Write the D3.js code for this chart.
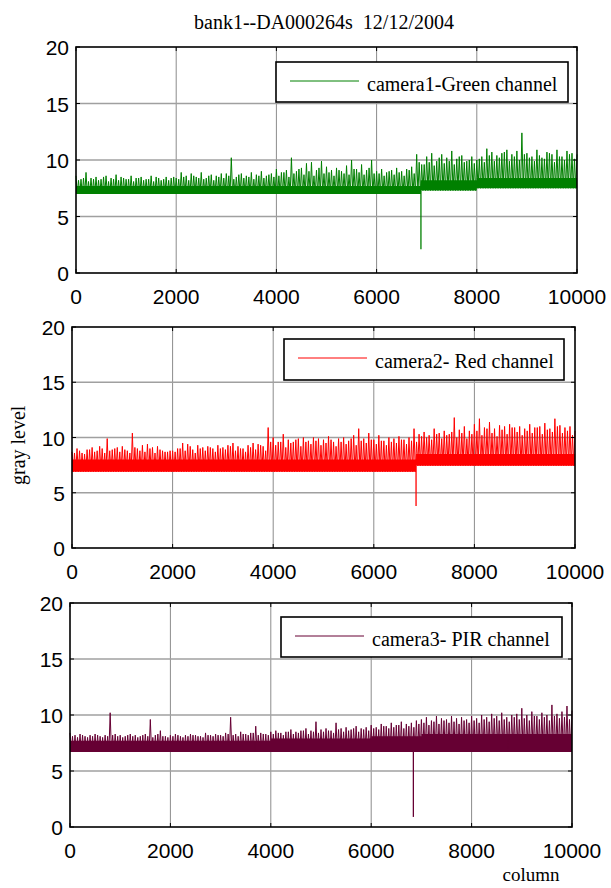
<!DOCTYPE html>
<html>
<head>
<meta charset="utf-8">
<script src="https://cdn.jsdelivr.net/npm/d3@7"></script>
<style>
body { margin: 0; background: #fff; }
svg { display: block; }
</style>
</head>
<body>
<div id="chart"></div>
<script>
// tick labels
var xTicks = [0, 2000, 4000, 6000, 8000, 10000];
var yTicks = [0, 5, 10, 15, 20];

// spike tops are read every 50 columns: "peaks" at 0,100,...,10000 and "mids" at 50,150,...,9950
var peakCols = d3.range(0, 10001, 100);

// camera1 - green
var greenPeaks = [
  8.6, 8.3, 8.9, 8.4, 8.5, 8.3, 8.6, 8.4, 8.7, 8.5,
  8.3, 8.6, 8.4, 8.5, 8.3, 8.6, 8.5, 8.2, 8.5, 8.4,
  8.4, 8.9, 8.6, 8.8, 8.5, 8.9, 8.4, 8.7, 8.6, 8.8,
  8.8, 10.2, 8.5, 8.8, 8.6, 8.9, 8.7, 9.0, 8.6, 8.8,
  9.2, 8.9, 9.1, 10.2, 9.0, 9.3, 9.7, 9.8, 9.1, 9.9,
  9.4, 9.1, 9.3, 9.0, 9.5, 10.0, 9.2, 9.6, 9.1, 10.0,
  9.0, 9.2, 8.9, 9.1, 9.3, 9.0, 9.2, 9.4, 10.5, 9.6,
  10.3, 10.6, 9.9, 10.5, 10.2, 10.8, 10.1, 10.4, 9.9, 10.3,
  10.0, 10.3, 11.0, 10.7, 10.4, 10.6, 10.9, 10.5, 10.8, 12.4,
  10.6, 10.3, 10.9, 10.2, 10.7, 10.5, 10.9, 10.3, 10.8, 10.6, 10.5
];
var greenMids = [
  8.2, 8.4, 8.1, 8.3, 8.2, 8.5, 8.1, 8.3, 8.2, 8.4,
  8.3, 8.1, 8.4, 8.2, 8.3, 8.1, 8.4, 8.3, 8.2, 8.5,
  8.3, 8.5, 8.2, 8.6, 8.4, 8.3, 8.6, 8.2, 8.5, 8.4,
  8.6, 8.3, 8.7, 8.4, 8.5, 8.3, 8.6, 8.4, 8.7, 8.5,
  8.6, 8.9, 8.5, 8.8, 9.2, 8.7, 9.0, 8.6, 9.3, 8.8,
  8.9, 8.6, 9.1, 8.8, 8.7, 9.2, 8.9, 8.7, 9.3, 8.8,
  8.8, 8.6, 9.0, 8.7, 8.9, 8.6, 9.1, 8.8, 9.8, 9.6,
  9.8, 9.5, 10.2, 9.7, 9.9, 9.6, 10.3, 9.8, 10.0, 9.7,
  10.1, 9.8, 10.4, 9.9, 10.2, 10.7, 9.9, 10.3, 10.0, 10.5,
  10.2, 9.9, 10.4, 10.1, 10.6, 9.8, 10.3, 10.0, 10.5, 10.1
];
var greenBandCols = [0, 6880, 8000, 10000];
var greenBandLow = [7.0, 7.3, 7.5, 7.5];
var greenBandHigh = [7.7, 8.2, 8.4, 8.4];
var greenDips = [[6885, 2.1]];

// camera2 - red
var redPeaks = [
  8.7, 9.0, 8.6, 8.9, 9.1, 8.8, 9.0, 9.9, 8.9, 9.1,
  9.2, 8.8, 10.4, 9.0, 9.3, 9.4, 9.1, 9.2, 8.8, 8.7,
  8.8, 9.0, 9.5, 9.4, 8.9, 9.3, 9.1, 9.2, 9.0, 9.3,
  9.1, 9.3, 9.5, 9.2, 9.0, 9.3, 9.5, 9.4, 9.2, 10.9,
  10.0, 9.6, 10.3, 9.8, 9.6, 9.9, 10.0, 9.7, 10.0, 9.9,
  9.8, 10.1, 9.6, 9.9, 10.0, 9.7, 10.2, 10.8, 9.9, 10.4,
  9.8, 10.2, 9.7, 10.0, 9.9, 10.1, 9.8, 10.0, 10.8, 10.3,
  10.5, 10.2, 10.8, 10.4, 10.6, 10.3, 11.8, 10.7, 11.0, 10.6,
  11.2, 11.7, 10.9, 11.4, 10.8, 11.1, 11.0, 11.2, 10.9, 11.0,
  10.8, 11.2, 10.9, 11.0, 11.3, 10.8, 11.7, 11.1, 10.9, 11.0, 10.6
];
var redMids = [
  8.6, 8.8, 8.5, 8.9, 8.7, 9.2, 8.6, 8.8, 9.0, 8.7,
  8.9, 8.6, 9.1, 8.8, 8.7, 9.0, 8.6, 8.9, 8.7, 8.8,
  8.7, 9.0, 8.8, 9.2, 8.6, 9.0, 8.8, 9.1, 8.7, 9.0,
  8.9, 9.2, 8.8, 9.0, 8.7, 9.1, 8.9, 9.3, 8.8, 9.6,
  9.3, 9.6, 9.1, 9.5, 9.8, 9.2, 9.6, 9.4, 9.7, 9.3,
  9.5, 9.8, 9.2, 9.6, 9.4, 9.9, 9.3, 9.7, 9.5, 9.8,
  9.4, 9.7, 9.3, 9.6, 9.5, 9.8, 9.4, 9.7, 9.6, 10.1,
  10.0, 9.8, 10.3, 9.9, 10.2, 10.5, 10.0, 10.4, 9.9, 10.3,
  10.6, 10.2, 10.8, 10.4, 10.1, 10.7, 10.3, 10.9, 10.5, 10.2,
  10.6, 10.4, 10.9, 10.3, 10.7, 10.5, 11.0, 10.4, 10.6, 10.2
];
var redBandCols = [0, 6840, 10000];
var redBandLow = [6.9, 7.45, 7.45];
var redBandHigh = [8.0, 8.5, 8.5];
var redDips = [[6840, 3.8]];

// camera3 - PIR
var pirPeaks = [
  8.4, 8.2, 8.3, 8.1, 8.2, 8.3, 8.1, 8.2, 10.2, 8.3,
  8.2, 8.1, 8.3, 8.2, 8.1, 8.3, 9.6, 8.2, 8.6, 8.1,
  8.2, 8.3, 8.1, 8.2, 8.3, 8.2, 8.1, 8.4, 8.2, 8.3,
  8.2, 8.4, 9.8, 8.3, 8.5, 8.3, 8.4, 9.0, 8.4, 8.3,
  8.5, 8.6, 8.4, 8.5, 8.7, 8.5, 8.6, 8.8, 8.6, 9.4,
  8.7, 8.8, 8.6, 9.3, 8.8, 8.9, 8.7, 9.0, 8.8, 8.9,
  9.1, 8.9, 9.2, 9.0, 9.3, 9.1, 9.4, 9.2, 9.3, 9.5,
  9.6, 9.8, 9.5, 9.9, 9.7, 9.6, 9.9, 9.7, 9.8, 9.6,
  9.9, 9.7, 10.0, 9.8, 10.1, 9.9, 10.2, 9.8, 10.0, 10.1,
  10.6, 10.0, 10.3, 9.9, 10.2, 10.0, 10.9, 10.1, 10.3, 10.8, 10.4
];
var pirMids = [
  8.1, 8.0, 8.2, 8.0, 8.1, 8.2, 8.0, 8.1, 8.2, 8.1,
  8.0, 8.2, 8.1, 8.0, 8.2, 8.1, 8.0, 8.3, 8.1, 8.0,
  8.1, 8.2, 8.0, 8.1, 8.2, 8.1, 8.0, 8.2, 8.1, 8.2,
  8.1, 8.3, 8.2, 8.1, 8.3, 8.2, 8.4, 8.2, 8.3, 8.2,
  8.3, 8.4, 8.2, 8.5, 8.3, 8.4, 8.6, 8.3, 8.5, 8.4,
  8.5, 8.6, 8.4, 8.7, 8.5, 8.6, 8.8, 8.5, 8.7, 8.6,
  8.8, 8.7, 9.0, 8.8, 8.9, 9.1, 8.8, 9.0, 8.9, 9.2,
  9.3, 9.1, 9.4, 9.2, 9.5, 9.3, 9.4, 9.2, 9.5, 9.3,
  9.5, 9.3, 9.6, 9.4, 9.7, 9.5, 9.6, 9.4, 9.8, 9.6,
  9.7, 9.5, 9.9, 9.6, 9.8, 9.5, 9.9, 9.7, 9.8, 9.6
];
var pirBandCols = [0, 4000, 6000, 7000, 10000];
var pirBandLow = [6.7, 6.7, 6.7, 6.7, 6.7];
var pirBandHigh = [7.7, 7.9, 8.1, 8.3, 8.3];
var pirDips = [[6840, 0.9]];

var legendLabels = ["camera1-Green channel", "camera2- Red channel", "camera3- PIR channel"];
var colors = ["#008000", "#ff0000", "#660033"];

var series = [
  { peaks: greenPeaks, mids: greenMids, bandCols: greenBandCols, low: greenBandLow, high: greenBandHigh, dips: greenDips },
  { peaks: redPeaks, mids: redMids, bandCols: redBandCols, low: redBandLow, high: redBandHigh, dips: redDips },
  { peaks: pirPeaks, mids: pirMids, bandCols: pirBandCols, low: pirBandLow, high: pirBandHigh, dips: pirDips }
];

// layout of each axes box and its legend
var panels = [
  { left: 76, right: 577, top: 47, bottom: 273, lx: 276, ly: 62, lw: 292, lh: 40 },
  { left: 72, right: 575, top: 327, bottom: 548, lx: 284, ly: 339, lw: 280, lh: 41 },
  { left: 70, right: 572, top: 603, bottom: 827, lx: 281, ly: 617, lw: 281, lh: 40 }
];

var serif = "Liberation Serif, Times New Roman, serif";
var sans = "Liberation Sans, Arial, sans-serif";

var svg = d3.select("#chart")
  .append("svg")
  .attr("width", 611).attr("height", 888);

svg.append("text")
  .attr("x", 324).attr("y", 29)
  .attr("text-anchor", "middle")
  .attr("font-family", serif)
  .attr("font-size", 20)
  .style("white-space", "pre")
  .text("bank1--DA000264s  12/12/2004");

svg.append("text")
  .attr("transform", "translate(25,485) rotate(-90)")
  .attr("font-family", serif)
  .attr("font-size", 20)
  .text("gray level");

svg.append("text")
  .attr("x", 531).attr("y", 881)
  .attr("text-anchor", "middle")
  .attr("font-family", serif)
  .attr("font-size", 19)
  .text("column");

panels.forEach(function(p, k) {
  var s = series[k];
  var color = colors[k];
  var x = d3.scaleLinear().domain([0, 10000]).range([p.left, p.right]);
  var y = d3.scaleLinear().domain([0, 20]).range([p.bottom, p.top]);
  var g = svg.append("g");

  function lowAt(col) {
    var i = Math.max(0, d3.bisectRight(s.bandCols, col) - 1);
    return s.low[i];
  }

  // grid
  g.selectAll(".vgrid").data(xTicks.slice(1, -1)).enter()
    .append("line")
    .attr("x1", function(d) { return x(d); }).attr("x2", function(d) { return x(d); })
    .attr("y1", p.top).attr("y2", p.bottom)
    .attr("stroke", "#8c8c8c").attr("stroke-width", 1);
  g.selectAll(".hgrid").data(yTicks.slice(1, -1)).enter()
    .append("line")
    .attr("x1", p.left).attr("x2", p.right)
    .attr("y1", function(d) { return y(d); }).attr("y2", function(d) { return y(d); })
    .attr("stroke", "#a0a0a0").attr("stroke-width", 1.3);

  // solid core band
  var bandPts = s.bandCols.map(function(c, i) { return [c, s.low[i], s.high[i]]; });
  g.append("path")
    .datum(bandPts)
    .attr("fill", color)
    .attr("d", d3.area()
      .curve(d3.curveStepAfter)
      .x(function(d) { return x(d[0]); })
      .y0(function(d) { return y(d[1]); })
      .y1(function(d) { return y(d[2]); }));

  // spikes every 50 columns, dropping back to the band floor in between
  var tops = [];
  peakCols.forEach(function(c, i) {
    tops.push([c, s.peaks[i]]);
    if (i < s.mids.length) tops.push([c + 50, s.mids[i]]);
  });
  var pts = [];
  tops.forEach(function(d, i) {
    pts.push(d);
    if (i < tops.length - 1) pts.push([d[0] + 25, lowAt(d[0] + 25)]);
  });
  g.append("path")
    .datum(pts)
    .attr("fill", "none")
    .attr("stroke", color)
    .attr("stroke-width", 1)
    .attr("d", d3.line()
      .x(function(d) { return x(d[0]); })
      .y(function(d) { return y(d[1]); }));

  // single deep dips
  g.selectAll(".dip").data(s.dips).enter()
    .append("line")
    .attr("x1", function(d) { return x(d[0]); }).attr("x2", function(d) { return x(d[0]); })
    .attr("y1", function(d) { return y(lowAt(d[0])); })
    .attr("y2", function(d) { return y(d[1]); })
    .attr("stroke", color).attr("stroke-width", 1.3);

  // frame
  g.append("rect")
    .attr("x", p.left).attr("y", p.top)
    .attr("width", p.right - p.left).attr("height", p.bottom - p.top)
    .attr("fill", "none").attr("stroke", "#000").attr("stroke-width", 1.6);

  // inward ticks
  xTicks.forEach(function(t) {
    g.append("line").attr("x1", x(t)).attr("x2", x(t))
      .attr("y1", p.bottom).attr("y2", p.bottom - 4).attr("stroke", "#000");
    g.append("line").attr("x1", x(t)).attr("x2", x(t))
      .attr("y1", p.top).attr("y2", p.top + 4).attr("stroke", "#000");
  });
  yTicks.forEach(function(t) {
    g.append("line").attr("x1", p.left).attr("x2", p.left + 4)
      .attr("y1", y(t)).attr("y2", y(t)).attr("stroke", "#000");
    g.append("line").attr("x1", p.right).attr("x2", p.right - 4)
      .attr("y1", y(t)).attr("y2", y(t)).attr("stroke", "#000");
  });

  // tick labels
  g.selectAll(".xl").data(xTicks).enter()
    .append("text")
    .attr("x", function(d) { return x(d); })
    .attr("y", p.bottom + 31)
    .attr("text-anchor", "middle")
    .attr("font-family", sans)
    .attr("font-size", 21)
    .text(function(d) { return d; });
  g.selectAll(".yl").data(yTicks).enter()
    .append("text")
    .attr("x", p.left - 7)
    .attr("y", function(d) { return y(d) + 8; })
    .attr("text-anchor", "end")
    .attr("font-family", sans)
    .attr("font-size", 21)
    .text(function(d) { return d; });

  // legend
  g.append("rect")
    .attr("x", p.lx).attr("y", p.ly)
    .attr("width", p.lw).attr("height", p.lh)
    .attr("fill", "#fff").attr("stroke", "#000").attr("stroke-width", 1.6);
  g.append("line")
    .attr("x1", p.lx + 14).attr("x2", p.lx + 83)
    .attr("y1", p.ly + 19).attr("y2", p.ly + 19)
    .attr("stroke", color).attr("stroke-width", 1);
  g.append("text")
    .attr("x", p.lx + 91).attr("y", p.ly + 29)
    .attr("font-family", serif)
    .attr("font-size", 20)
    .text(legendLabels[k]);
});
</script>
</body>
</html>
